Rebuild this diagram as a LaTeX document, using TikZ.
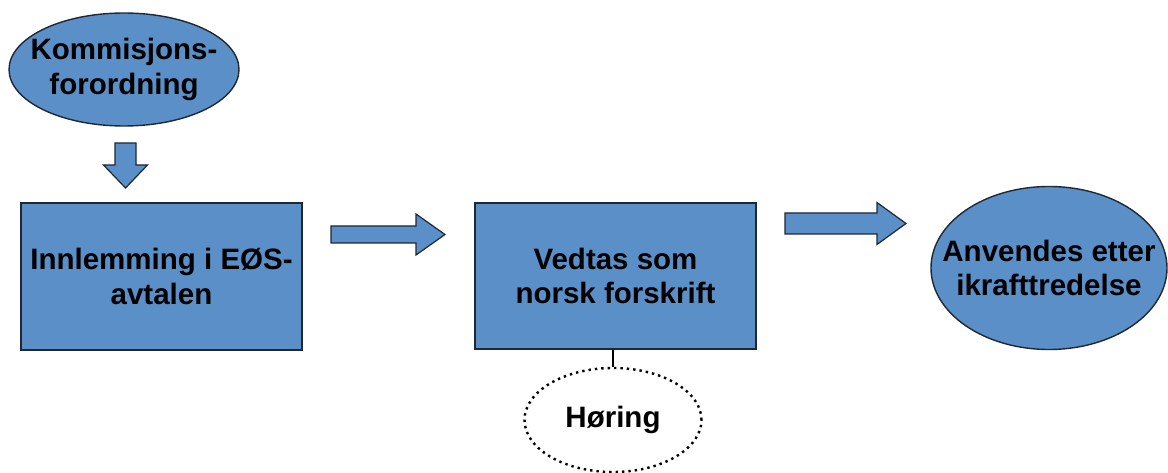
\documentclass[tikz,border=0pt]{standalone}
\usepackage{fontspec}
\setmainfont{Liberation Sans}
\usetikzlibrary{shapes.geometric}
\definecolor{boxblue}{HTML}{5B8FC8}
\definecolor{edge}{HTML}{1E2833}
\begin{document}
\begin{tikzpicture}[x=1pt,y=-1pt,
  lbl/.style={font=\fontsize{29.5}{34.5}\selectfont\bfseries, align=center, text=black, inner sep=0pt},
  bluebox/.style={lbl, draw=edge, line width=1.4pt, fill=boxblue, rectangle},
  blueoval/.style={draw=edge, line width=1.4pt, fill=boxblue, ellipse, inner sep=0pt},
  dotoval/.style={draw=black, line width=2.4pt, dash pattern=on 2.4pt off 4pt, ellipse, fill=white, inner sep=0pt},
  blockarrow/.style={draw=edge, line width=1.2pt, fill=boxblue, line join=miter},
  link/.style={draw=black, line width=2pt}]
\useasboundingbox (0,0) rectangle (1168,473);

% ovals (shape only) with their labels
\node[blueoval, minimum width=230pt, minimum height=113pt] (kom) at (124,69.5) {};
\node[lbl] (komtxt) at (kom.center) {Kommisjons-\\forordning};
\node[blueoval, minimum width=236pt, minimum height=163pt] (anv) at (1049,268) {};
\node[lbl] (anvtxt) at (anv.center) {Anvendes etter\\ikrafttredelse};
\node[dotoval, minimum width=177pt, minimum height=104pt] (hor) at (613,420) {};
\node[lbl] (hortxt) at (hor.center) {Høring};

% boxes
\node[bluebox, minimum width=281pt, minimum height=147pt] (innl) at (161.5,276.5) {Innlemming i EØS-\\avtalen};
\node[bluebox, minimum width=281pt, minimum height=146pt] (vedt) at (615.5,276) {Vedtas som\\norsk forskrift};

% link from the regulation box to the consultation
\draw[link] (vedt.south -| hor.north) -- (hor.north);

% block arrows
\coordinate (a1) at (331,234.5);
\draw[blockarrow] (a1) ++(0,-8.5) -- ++(85,0) -- ++(0,-12) -- ++(29,20.5) -- ++(-29,20.5) -- ++(0,-12) -- ++(-85,0) -- cycle;
\coordinate (a2) at (785,223.5);
\draw[blockarrow] (a2) ++(0,-10.5) -- ++(92,0) -- ++(0,-10.5) -- ++(29,21) -- ++(-29,21) -- ++(0,-10.5) -- ++(-92,0) -- cycle;
\coordinate (a3) at (125.5,143);
\draw[blockarrow] (a3) ++(-10.5,0) -- ++(0,22) -- ++(-11.5,0) -- ++(22,23) -- ++(22,-23) -- ++(-11.5,0) -- ++(0,-22) -- cycle;
\end{tikzpicture}
\end{document}
